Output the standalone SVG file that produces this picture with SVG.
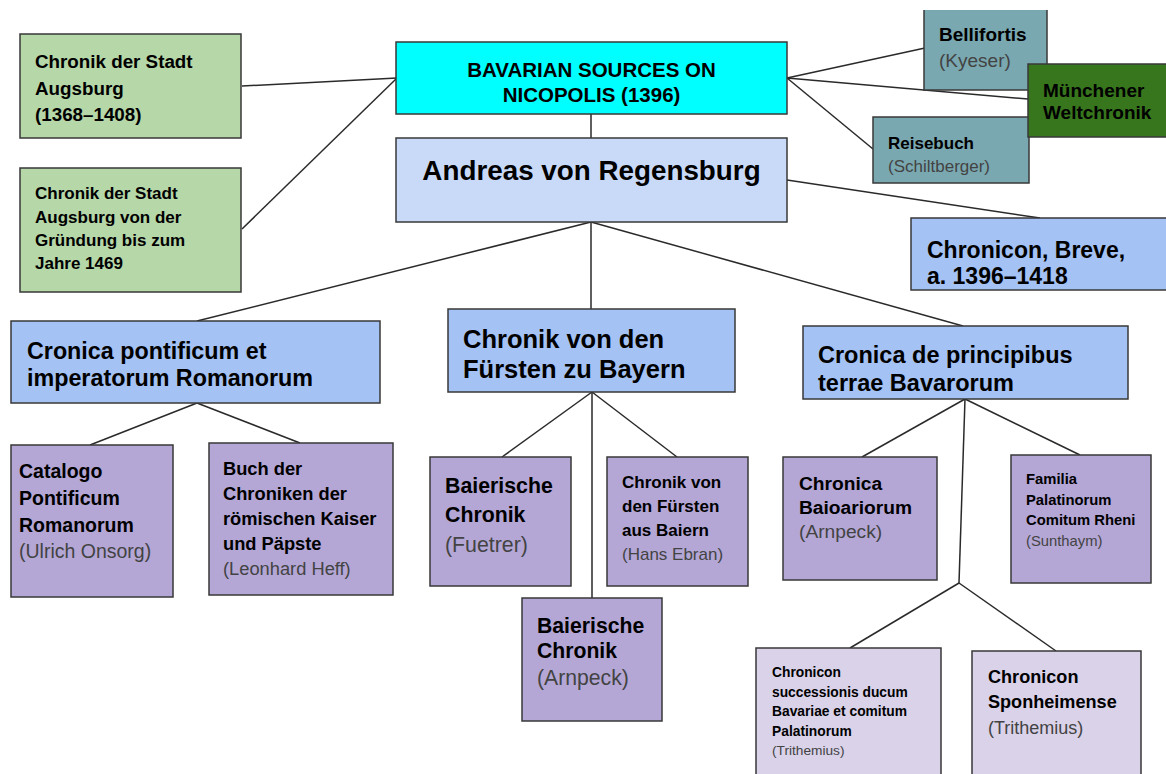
<svg xmlns="http://www.w3.org/2000/svg" width="1166" height="774" viewBox="0 0 1166 774">
<style>
text{font-family:"Liberation Sans",Arial,sans-serif;fill:#000}
.b{font-weight:bold}
.s{fill:#434343}
.box{stroke:#383838;stroke-width:1.5}
.green{fill:#b6d7a8}
.cyan{fill:#00ffff}
.lb{fill:#c9daf8}
.mb{fill:#a4c2f4}
.teal{fill:#7aa8b1}
.dg{fill:#38761d}
.pu{fill:#b4a7d6}
.lp{fill:#d9d2e9}
#connectors line{stroke:#2a2a2a;stroke-width:1.5}
</style>
<rect width="1166" height="774" fill="#fff"/>
<g id="connectors">
<line x1="242" y1="86" x2="397" y2="78"/>
<line x1="242" y1="229" x2="397" y2="78"/>
<line x1="591" y1="114" x2="591" y2="138"/>
<line x1="787" y1="78" x2="925" y2="48"/>
<line x1="787" y1="78" x2="1028" y2="99"/>
<line x1="787" y1="78" x2="873" y2="149"/>
<line x1="787" y1="180" x2="1040" y2="218"/>
<line x1="591" y1="222" x2="197" y2="321"/>
<line x1="591" y1="222" x2="591" y2="309"/>
<line x1="591" y1="222" x2="963" y2="326"/>
<line x1="197" y1="403" x2="90" y2="445"/>
<line x1="197" y1="403" x2="300" y2="443"/>
<line x1="592" y1="392" x2="502" y2="457"/>
<line x1="592" y1="392" x2="677" y2="457"/>
<line x1="592" y1="392" x2="592" y2="598"/>
<line x1="965" y1="399" x2="862" y2="457"/>
<line x1="965" y1="399" x2="1080" y2="455"/>
<line x1="965" y1="399" x2="959" y2="583"/>
<line x1="959" y1="583" x2="850" y2="648"/>
<line x1="959" y1="583" x2="1056" y2="651"/>
</g>
<g id="augsburg1">
<rect class="box green" x="20" y="34" width="221" height="104"/>
<text class="b" x="35" font-size="18.8"><tspan x="35" y="68">Chronik der Stadt</tspan><tspan x="35" y="95">Augsburg</tspan><tspan x="35" y="121">(1368–1408)</tspan></text>
</g>
<g id="augsburg2">
<rect class="box green" x="20" y="168" width="221" height="124"/>
<text class="b" font-size="17"><tspan x="35" y="199">Chronik der Stadt</tspan><tspan x="35" y="223">Augsburg von der</tspan><tspan x="35" y="246">Gründung bis zum</tspan><tspan x="35" y="269">Jahre 1469</tspan></text>
</g>
<g id="main">
<rect class="box cyan" x="396" y="42" width="391" height="72"/>
<text class="b" font-size="20.5" text-anchor="middle"><tspan x="591.5" y="77">BAVARIAN SOURCES ON</tspan><tspan x="591.5" y="102">NICOPOLIS (1396)</tspan></text>
</g>
<g id="andreas">
<rect class="box lb" x="396" y="138" width="391" height="84"/>
<text class="b" font-size="27.8" text-anchor="middle" x="591.5" y="180">Andreas von Regensburg</text>
</g>
<g id="bellifortis">
<rect class="teal" x="924" y="10" width="123" height="80"/>
<path d="M924,10 V90 H1047 V10" fill="none" stroke="#383838" stroke-width="1.5"/>
<text class="b" font-size="19" x="939" y="41">Bellifortis</text>
<text class="s" font-size="19" x="939" y="67">(Kyeser)</text>
</g>
<g id="reisebuch">
<rect class="box teal" x="873" y="117" width="156" height="66"/>
<text class="b" font-size="17" x="888" y="149">Reisebuch</text>
<text class="s" font-size="17" x="888" y="172">(Schiltberger)</text>
</g>
<g id="muenchener">
<rect class="box dg" x="1028" y="64" width="145" height="73"/>
<text class="b" font-size="19"><tspan x="1043" y="97">Münchener</tspan><tspan x="1043" y="119">Weltchronik</tspan></text>
</g>
<g id="breve">
<rect class="box mb" x="911" y="218" width="262" height="72"/>
<text class="b" font-size="23"><tspan x="927" y="258">Chronicon, Breve,</tspan><tspan x="927" y="284">a. 1396–1418</tspan></text>
</g>
<g id="pontificum">
<rect class="box mb" x="11" y="321" width="369" height="82"/>
<text class="b" font-size="23.3"><tspan x="27" y="359">Cronica pontificum et</tspan><tspan x="27" y="386">imperatorum Romanorum</tspan></text>
</g>
<g id="fuersten">
<rect class="box mb" x="448" y="309" width="287" height="83"/>
<text class="b" font-size="25.5"><tspan x="463" y="348">Chronik von den</tspan><tspan x="463" y="378">Fürsten zu Bayern</tspan></text>
</g>
<g id="principibus">
<rect class="box mb" x="803" y="326" width="325" height="73"/>
<text class="b" font-size="23.5"><tspan x="818" y="363">Cronica de principibus</tspan><tspan x="818" y="391">terrae Bavarorum</tspan></text>
</g>
<g id="catalogo">
<rect class="box pu" x="11" y="445" width="162" height="152"/>
<text class="b" font-size="19.5"><tspan x="19" y="478">Catalogo</tspan><tspan x="19" y="505">Pontificum</tspan><tspan x="19" y="532">Romanorum</tspan></text>
<text class="s" font-size="19.5" x="19" y="558">(Ulrich Onsorg)</text>
</g>
<g id="buch">
<rect class="box pu" x="209" y="443" width="184" height="152"/>
<text class="b" font-size="18.3"><tspan x="223" y="475">Buch der</tspan><tspan x="223" y="500">Chroniken der</tspan><tspan x="223" y="525">römischen Kaiser</tspan><tspan x="223" y="550">und Päpste</tspan></text>
<text class="s" font-size="18.3" x="223" y="575">(Leonhard Heff)</text>
</g>
<g id="baierische-fuetrer">
<rect class="box pu" x="430" y="457" width="141" height="129"/>
<text class="b" font-size="21.3"><tspan x="445" y="493">Baierische</tspan><tspan x="445" y="522">Chronik</tspan></text>
<text class="s" font-size="21.3" x="445" y="552">(Fuetrer)</text>
</g>
<g id="ebran">
<rect class="box pu" x="607" y="457" width="141" height="129"/>
<text class="b" font-size="17"><tspan x="622" y="488">Chronik von</tspan><tspan x="622" y="512">den Fürsten</tspan><tspan x="622" y="536">aus Baiern</tspan></text>
<text class="s" font-size="17" x="622" y="560">(Hans Ebran)</text>
</g>
<g id="baierische-arnpeck">
<rect class="box pu" x="522" y="598" width="140" height="123"/>
<text class="b" font-size="21.2"><tspan x="537" y="633">Baierische</tspan><tspan x="537" y="658">Chronik</tspan></text>
<text class="s" font-size="21.2" x="537" y="685">(Arnpeck)</text>
</g>
<g id="baioariorum">
<rect class="box pu" x="783" y="457" width="154" height="123"/>
<text class="b" font-size="19.2"><tspan x="799" y="490">Chronica</tspan><tspan x="799" y="514">Baioariorum</tspan></text>
<text class="s" font-size="19.2" x="799" y="538">(Arnpeck)</text>
</g>
<g id="familia">
<rect class="box pu" x="1011" y="455" width="140" height="128"/>
<text class="b" font-size="14.8"><tspan x="1026" y="484">Familia</tspan><tspan x="1026" y="505">Palatinorum</tspan><tspan x="1026" y="525">Comitum Rheni</tspan></text>
<text class="s" font-size="14.8" x="1026" y="546">(Sunthaym)</text>
</g>
<g id="successionis">
<rect class="box lp" x="756" y="648" width="185" height="135"/>
<text class="b" font-size="13.8"><tspan x="772" y="677">Chronicon</tspan><tspan x="772" y="697">successionis ducum</tspan><tspan x="772" y="716">Bavariae et comitum</tspan><tspan x="772" y="736">Palatinorum</tspan></text>
<text class="s" font-size="13.7" x="772" y="755">(Trithemius)</text>
</g>
<g id="sponheimense">
<rect class="box lp" x="972" y="651" width="169" height="132"/>
<text class="b" font-size="18.1"><tspan x="988" y="683">Chronicon</tspan><tspan x="988" y="708">Sponheimense</tspan></text>
<text class="s" font-size="18" x="988" y="734">(Trithemius)</text>
</g>
</svg>
